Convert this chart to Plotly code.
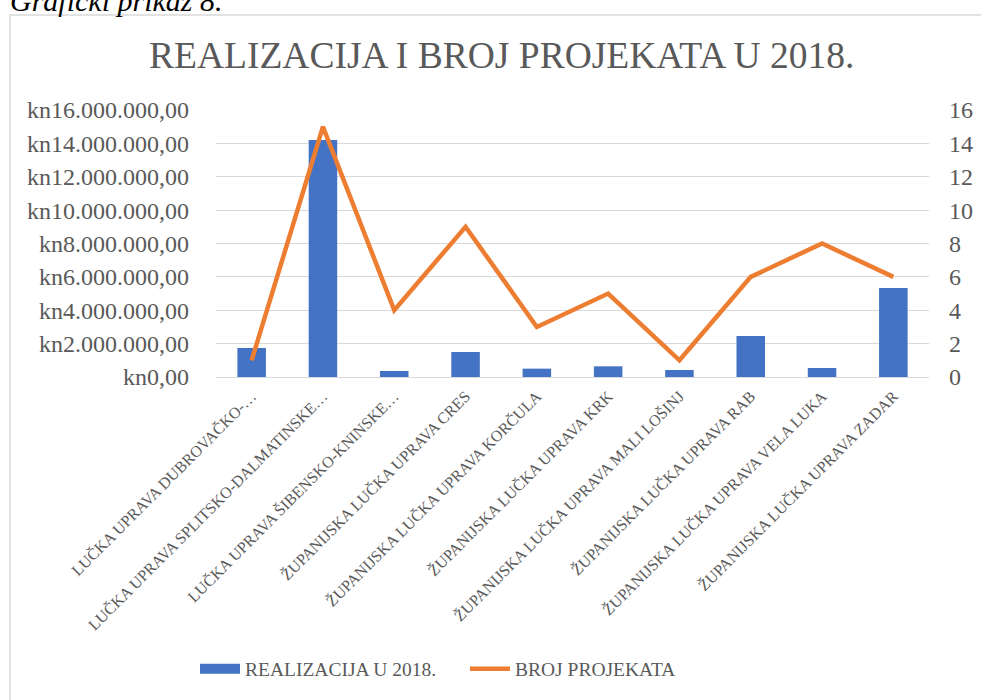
import plotly.graph_objects as go

categories = [
    "LUČKA UPRAVA DUBROVAČKO-…",
    "LUČKA UPRAVA SPLITSKO-DALMATINSKE…",
    "LUČKA UPRAVA ŠIBENSKO-KNINSKE…",
    "ŽUPANIJSKA LUČKA UPRAVA CRES",
    "ŽUPANIJSKA LUČKA UPRAVA KORČULA",
    "ŽUPANIJSKA LUČKA UPRAVA KRK",
    "ŽUPANIJSKA LUČKA UPRAVA MALI LOŠINJ",
    "ŽUPANIJSKA LUČKA UPRAVA RAB",
    "ŽUPANIJSKA LUČKA UPRAVA VELA LUKA",
    "ŽUPANIJSKA LUČKA UPRAVA ZADAR",
]
realizacija = [1740000, 14200000, 360000, 1500000, 500000, 640000, 420000, 2450000, 540000, 5330000]
broj_projekata = [1, 15, 4, 9, 3, 5, 1, 6, 8, 6]

title_text = "REALIZACIJA I BROJ PROJEKATA U 2018."
caption_text = "Grafički prikaz 8."
series_names = ["REALIZACIJA U 2018.", "BROJ PROJEKATA"]

W, H = 981, 700
L, R, T, B = 216, 929, 110, 377
FONT = "Liberation Serif"
GREY = "#595959"
BLUE = "#4472C4"
ORANGE = "#ED7D31"

def px(x):
    return (x - L) / (R - L)

def py(y):
    return (B - y) / (B - T)

fig = go.Figure()
fig.add_trace(go.Bar(
    x=categories, y=realizacija, name=series_names[0],
    marker=dict(color=BLUE, line=dict(width=0)),
    yaxis="y", showlegend=False,
))
# legend entry for the bars drawn as a wide swatch (as in the original)
fig.add_trace(go.Scatter(
    x=[None], y=[None], name=series_names[0], mode="lines",
    line=dict(color=BLUE, width=12), yaxis="y", hoverinfo="skip",
))
fig.add_trace(go.Scatter(
    x=categories, y=broj_projekata, name=series_names[1],
    mode="lines", line=dict(color=ORANGE, width=4.5),
    yaxis="y2",
))

fig.update_layout(
    width=W, height=H,
    margin=dict(l=L, r=W - R, t=T, b=H - B),
    paper_bgcolor="white", plot_bgcolor="white",
    font=dict(family=FONT, color=GREY),
    separators=",.",
    bargap=0.6,
    showlegend=True,
    legend=dict(
        orientation="h", x=px(195), y=py(669), xanchor="left", yanchor="middle",
        font=dict(size=19.5, family=FONT, color=GREY),
        itemwidth=40, tracegroupgap=0, entrywidth=215,
    ),
    xaxis=dict(
        tickangle=-45, tickfont=dict(size=15.9, family=FONT, color=GREY),
        showgrid=False, showline=False, ticks="", automargin=False,
        ticklabelstandoff=6,
    ),
    yaxis=dict(
        range=[0, 16000000], dtick=2000000, tick0=0,
        tickformat=",.2f", tickprefix="kn",
        tickfont=dict(size=24, family=FONT, color=GREY),
        showgrid=True, gridcolor="#D9D9D9", gridwidth=1,
        zeroline=True, zerolinecolor="#D9D9D9", zerolinewidth=1,
        showline=False, ticks="", ticklabelstandoff=26, automargin=False,
    ),
    yaxis2=dict(
        range=[0, 16], dtick=2, tick0=0, overlaying="y", side="right",
        tickfont=dict(size=24, family=FONT, color=GREY),
        showgrid=False, zeroline=False, showline=False, ticks="",
        ticklabelstandoff=19, automargin=False,
    ),
    shapes=[dict(
        type="rect", xref="paper", yref="paper",
        x0=px(10), x1=px(990), y0=py(712), y1=py(15),
        line=dict(color="#D9D9D9", width=1.5), fillcolor="rgba(0,0,0,0)",
        layer="below",
    )],
    annotations=[
        dict(text=title_text, xref="paper", yref="paper", x=px(501), y=py(56),
             xanchor="center", yanchor="middle", showarrow=False,
             font=dict(size=37.5, family=FONT, color=GREY)),
        dict(text="<i>" + caption_text + "</i>", xref="paper", yref="paper",
             x=px(8), y=py(1), xanchor="left", yanchor="middle", showarrow=False,
             font=dict(size=30, family=FONT, color="black")),
    ],
)

fig.write_html(
    "out.html",
    config={"displayModeBar": False},
    post_script="document.body.style.margin='0';document.body.style.overflow='hidden';",
)
